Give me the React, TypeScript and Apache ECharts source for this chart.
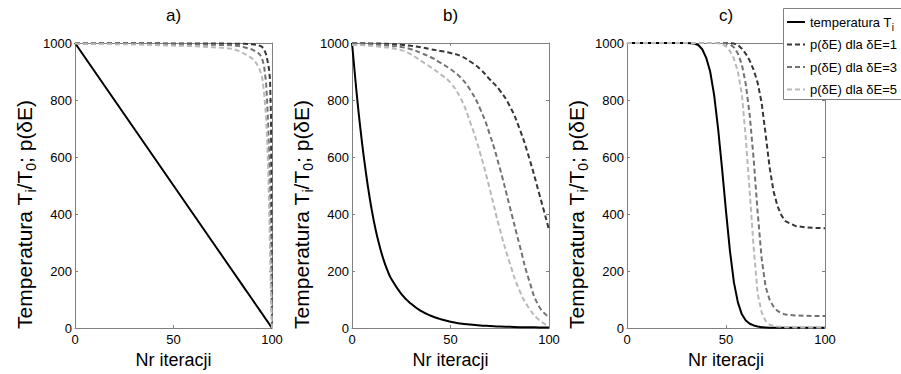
import React, { useEffect, useRef } from 'react';
import * as echarts from 'echarts';

const FONT = 'Arial, "Liberation Sans", Helvetica, sans-serif';

const panelTitles = ['a)', 'b)', 'c)'];
const seriesNames = ['temperatura Ti', 'p(δE) dla δE=1', 'p(δE) dla δE=3', 'p(δE) dla δE=5'];
const seriesColors = ['#000000', '#363636', '#727272', '#b9b9b9'];
const xTickStep = 50;
const yTickStep = 200;

// panel a) – linear cooling
const iterA = [0, 10, 20, 30, 40, 50, 60, 70, 75, 80, 84, 86, 88, 90, 92, 93, 94, 95, 96, 97, 97.5, 98, 98.5, 99, 99.5, 100];
const tempA = [1000, 900, 800, 700, 600, 500, 400, 300, 250, 200, 160, 140, 120, 100, 80, 70, 60, 50, 40, 30, 25, 20, 15, 10, 5, 0];
const p1A = [999, 999, 999, 999, 999, 998, 998, 998, 998, 997, 997, 997, 996, 996, 994, 992, 990, 986, 978, 960, 945, 928, 908, 870, 740, 0];
const p3A = [999, 998, 998, 997, 997, 996, 995, 994, 993, 992, 988, 985, 981, 977, 970, 965, 958, 945, 918, 860, 800, 720, 620, 450, 240, 0];
const p5A = [998, 997, 996, 995, 993, 991, 989, 985, 983, 980, 970, 962, 955, 945, 930, 918, 902, 880, 825, 740, 670, 570, 430, 270, 110, 0];

// panel b) – geometric cooling
const iterB = [0, 2, 4, 6, 8, 10, 12, 14, 16, 18, 20, 25, 30, 35, 40, 45, 50, 55, 60, 65, 70, 75, 80, 85, 90, 95, 100];
const tempB = [1000, 850, 715, 600, 500, 415, 345, 288, 240, 202, 172, 120, 85, 60, 43, 31, 22, 16, 12, 9, 7, 5, 4, 3, 3, 2, 2];
const p1B = [999, 999, 999, 999, 999, 998, 998, 998, 997, 997, 996, 994, 990, 985, 978, 972, 965, 955, 935, 909, 872, 834, 780, 700, 595, 472, 345];
const p3B = [997, 997, 997, 996, 996, 995, 994, 994, 993, 991, 990, 986, 978, 965, 950, 930, 908, 880, 835, 770, 678, 562, 428, 293, 165, 75, 38];
const p5B = [993, 993, 993, 992, 991, 990, 989, 987, 985, 984, 982, 975, 960, 937, 915, 890, 860, 808, 722, 615, 486, 348, 230, 132, 68, 28, 6];

// panel c) – sigmoidal cooling
const iterC = [0, 10, 20, 30, 34, 36, 38, 40, 42, 44, 46, 48, 50, 52, 54, 56, 58, 60, 62, 64, 66, 68, 70, 72, 74, 76, 78, 80, 85, 90, 95, 100];
const tempC = [1000, 1000, 1000, 1000, 998, 993, 978, 948, 900, 818, 700, 560, 410, 270, 160, 90, 48, 26, 15, 9, 5, 3, 2, 1, 1, 1, 1, 1, 1, 1, 1, 1];
const p1C = [1000, 1000, 1000, 1000, 1000, 1000, 1000, 1000, 1000, 1000, 1000, 1000, 1000, 999, 998, 993, 980, 962, 938, 905, 860, 790, 680, 565, 480, 428, 395, 375, 358, 353, 351, 350];
const p3C = [1000, 1000, 1000, 1000, 1000, 1000, 1000, 1000, 1000, 1000, 1000, 1000, 999, 995, 985, 963, 925, 855, 745, 590, 405, 245, 145, 100, 75, 60, 52, 47, 44, 43, 42, 42];
const p5C = [1000, 1000, 1000, 1000, 1000, 1000, 1000, 1000, 1000, 1000, 999, 997, 988, 972, 945, 900, 820, 665, 475, 280, 120, 55, 25, 12, 7, 5, 4, 3, 2, 2, 2, 2];

const panels = [
  { iter: iterA, curves: [tempA, p1A, p3A, p5A], smooth: false },
  { iter: iterB, curves: [tempB, p1B, p3B, p5B], smooth: 0.5 },
  { iter: iterC, curves: [tempC, p1C, p3C, p5C], smooth: false },
];

const gridLeft = [75, 352, 627];
const gridWidth = [197, 197, 198];
const gridTop = 43;
const gridHeight = 293;

function buildOption() {
  const frame = { color: '#808080', width: 1 };
  const grid: any[] = [];
  const xAxis: any[] = [];
  const yAxis: any[] = [];
  const series: any[] = [];
  const graphic: any[] = [];

  panels.forEach((panel, p) => {
    grid.push({ left: gridLeft[p], top: gridTop, width: gridWidth[p], height: gridHeight, containLabel: false });
    const xBase = {
      type: 'value', gridIndex: p, min: 0, max: 100, interval: xTickStep,
      axisLine: { show: true, onZero: false, lineStyle: frame },
      axisTick: { show: true, inside: true, length: 3, lineStyle: frame },
      splitLine: { show: false },
    };
    xAxis.push({
      ...xBase, position: 'bottom',
      axisLabel: { show: true, color: '#000', fontSize: 13, fontFamily: FONT, margin: 5, formatter: (v: number) => String(v) },
      name: 'Nr iteracji', nameLocation: 'middle', nameGap: 23,
      nameTextStyle: { color: '#000', fontSize: 18, fontFamily: FONT, lineHeight: 18 },
    });
    xAxis.push({ ...xBase, position: 'top', axisLabel: { show: false } });
    const yBase = {
      type: 'value', gridIndex: p, min: 0, max: 1000, interval: yTickStep,
      axisLine: { show: true, onZero: false, lineStyle: frame },
      axisTick: { show: true, inside: true, length: 3, lineStyle: frame },
      splitLine: { show: false },
    };
    yAxis.push({
      ...yBase, position: 'left',
      axisLabel: { show: true, color: '#000', fontSize: 13, fontFamily: FONT, margin: 3, formatter: (v: number) => String(v) },
      name: 'Temperatura T{sub|i}/T{sub|0}; p(δE)', nameLocation: 'middle', nameGap: 37, nameRotate: 90,
      nameTextStyle: {
        color: '#000', fontSize: 21, fontFamily: FONT, lineHeight: 28, padding: [0, 58, 0, 0],
        rich: { sub: { color: '#000', fontSize: 14, fontFamily: FONT, lineHeight: 14, verticalAlign: 'bottom' } },
      },
    });
    yAxis.push({ ...yBase, position: 'right', axisLabel: { show: false } });

    panel.curves.forEach((vals, k) => {
      series.push({
        name: seriesNames[k],
        type: 'line',
        xAxisIndex: 2 * p,
        yAxisIndex: 2 * p,
        data: panel.iter.map((x, j) => [x, vals[j]]),
        symbol: 'none',
        showSymbol: false,
        smooth: panel.smooth,
        clip: true,
        lineStyle: { color: seriesColors[k], width: 2, type: k === 0 ? 'solid' : [5, 3] },
        itemStyle: { color: seriesColors[k] },
        emphasis: { disabled: true },
      });
    });

    graphic.push({
      type: 'text',
      x: gridLeft[p] + gridWidth[p] / 2,
      y: 15,
      style: {
        text: panelTitles[p], fill: '#000', fontSize: 17, fontFamily: FONT,
        textAlign: 'center', textVerticalAlign: 'middle', align: 'center', verticalAlign: 'middle',
      },
    });
  });

  // legend frame (extends past the right edge of the picture)
  graphic.push({
    type: 'rect',
    z: 3,
    shape: { x: 783.5, y: 8.5, width: 200, height: 91 },
    style: { fill: '#ffffff', stroke: '#808080', lineWidth: 1 },
  });

  return {
    animation: false,
    backgroundColor: '#ffffff',
    grid,
    xAxis,
    yAxis,
    series,
    graphic,
    legend: {
      z: 4,
      data: seriesNames,
      orient: 'vertical',
      left: 783,
      top: 8,
      padding: [4, 4, 4, 3],
      itemWidth: 18,
      itemHeight: 14,
      itemGap: 2.5,
      itemStyle: { opacity: 0, borderWidth: 0 },
      selectedMode: false,
      formatter: (n: string) => (n === 'temperatura Ti' ? 'temperatura T{sub|i}' : n),
      textStyle: {
        color: '#000', fontSize: 13, fontFamily: FONT, lineHeight: 20,
        rich: { sub: { color: '#000', fontSize: 10, fontFamily: FONT, lineHeight: 10, verticalAlign: 'bottom' } },
      },
    },
  };
}

export default function App() {
  const ref = useRef<HTMLDivElement>(null);
  useEffect(() => {
    if (!ref.current) return;
    const chart = echarts.init(ref.current, undefined, { renderer: 'svg' });
    chart.setOption(buildOption() as any);
    return () => chart.dispose();
  }, []);
  return (
    <div
      ref={ref}
      style={{ position: 'absolute', left: 0, top: 0, width: 901, height: 374, background: '#fff' }}
    />
  );
}
